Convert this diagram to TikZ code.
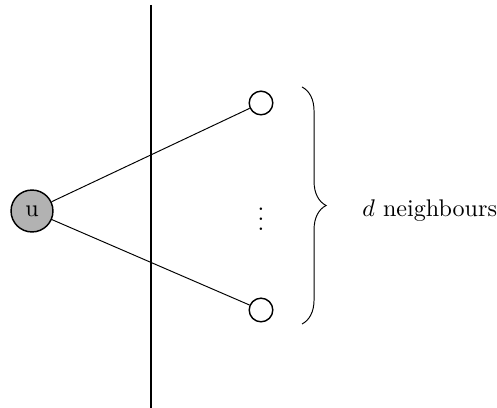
\documentclass[tikz,border=0pt]{standalone}
\usepackage{amsmath}
\usetikzlibrary{decorations.pathreplacing}
\tikzset{
  vertex/.style ={draw, circle, semithick, inner sep=0pt},
  centre/.style ={vertex, fill=gray!60, minimum size=17.4pt},
  nbr/.style    ={vertex, fill=white, minimum size=9.8pt},
  cut/.style    ={thick},
  brc/.style    ={decorate, decoration={brace, amplitude=10pt}},
}

\begin{document}
\begin{tikzpicture}[x=0.415pt, y=-0.415pt]
  \useasboundingbox (0,0) rectangle (497,408);

  % the cut, splitting u from its neighbours
  \coordinate (cuttop) at (151,5);
  \coordinate (cutbot) at (151,408);
  \draw[cut] (cuttop) -- (cutbot);

  % centre vertex and its neighbours
  \node[centre] (u)  at (32,211)  {u};
  \node[nbr]    (n1) at (261,103) {};
  \node[nbr]    (n2) at (261,310) {};
  \node (dots) at (261,212) {$\vdots$};
  \draw (u) -- (n1);
  \draw (u) -- (n2);

  % brace with the count
  \coordinate (btop) at (302,87);
  \coordinate (bbot) at (302,324);
  \draw[brc] (btop) -- (bbot);
  \node[anchor=west, inner sep=0pt] (lbl) at (362,211) {$d$ neighbours};
\end{tikzpicture}
\end{document}
